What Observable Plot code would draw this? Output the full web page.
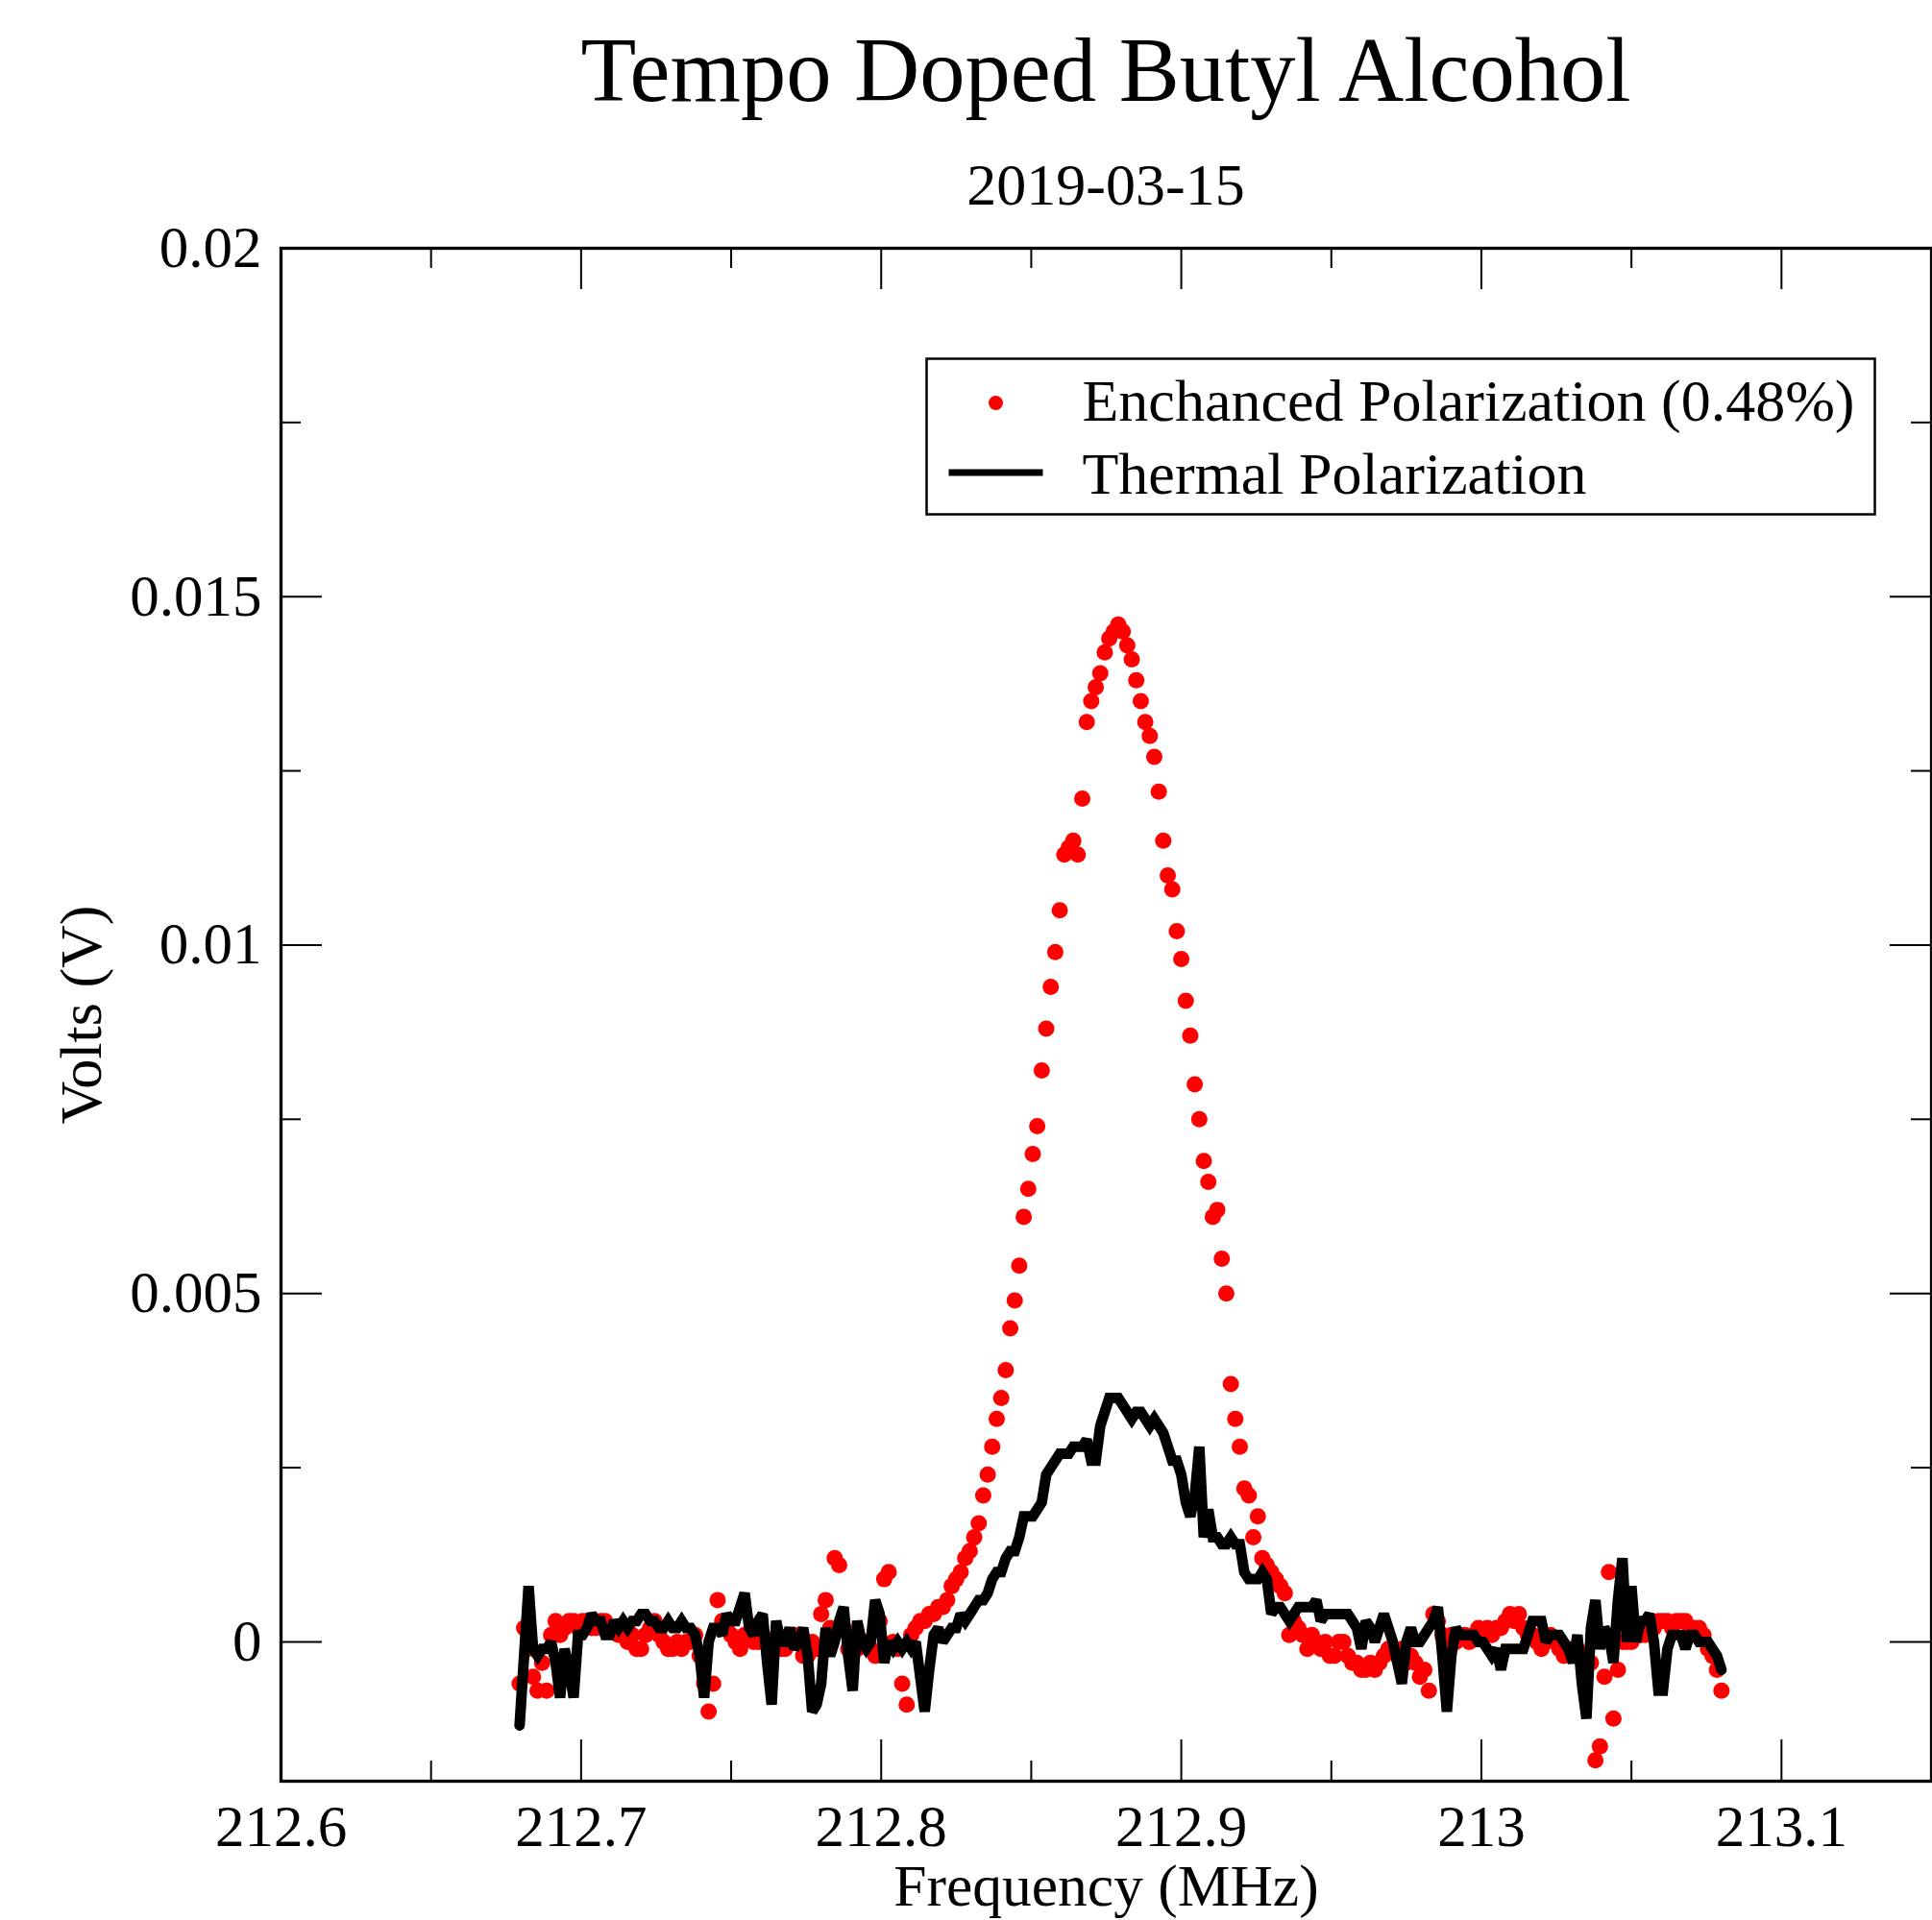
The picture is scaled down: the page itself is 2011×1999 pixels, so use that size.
<!DOCTYPE html>
<html>
<head>
<meta charset="utf-8">
<script src="https://cdn.jsdelivr.net/npm/d3@7"></script>
<script src="https://cdn.jsdelivr.net/npm/@observablehq/plot@0.6"></script>
<style>
  body { margin: 0; background: #fff; }
  #wrap { position: relative; width: 2011px; height: 1999px; font-family: "Liberation Serif", "Times New Roman", serif; color: #000; background: #fff; }
  #title { position: absolute; left: 292px; width: 1718px; top: 26px; font-size: 94.5px; line-height: 94.5px; text-align: center; margin: 0; font-weight: normal; }
  #subtitle { position: absolute; left: 292px; width: 1718px; top: 161px; font-size: 62px; line-height: 62px; text-align: center; margin: 0; font-weight: normal; }
  #plot { position: absolute; left: 0; top: 230px; }
</style>
</head>
<body>
<div id="wrap">
  <div id="title">Tempo Doped Butyl Alcohol</div>
  <div id="subtitle">2019-03-15</div>
  <div id="plot"></div>
</div>
<script>
// ---------- data ----------
const frequency = [
  212.6795, 212.6810, 212.6825, 212.6840, 212.6855, 212.6870, 212.6885, 212.6900, 212.6915, 212.6930,
  212.6945, 212.6960, 212.6975, 212.6990, 212.7005, 212.7020, 212.7035, 212.7050, 212.7065, 212.7080,
  212.7095, 212.7110, 212.7125, 212.7140, 212.7155, 212.7170, 212.7185, 212.7200, 212.7215, 212.7230,
  212.7245, 212.7260, 212.7275, 212.7290, 212.7305, 212.7320, 212.7335, 212.7350, 212.7365, 212.7380,
  212.7395, 212.7410, 212.7425, 212.7440, 212.7455, 212.7470, 212.7485, 212.7500, 212.7515, 212.7530,
  212.7545, 212.7560, 212.7575, 212.7590, 212.7605, 212.7620, 212.7635, 212.7650, 212.7665, 212.7680,
  212.7695, 212.7710, 212.7725, 212.7740, 212.7755, 212.7770, 212.7785, 212.7800, 212.7815, 212.7830,
  212.7845, 212.7860, 212.7875, 212.7890, 212.7905, 212.7920, 212.7935, 212.7950, 212.7965, 212.7980,
  212.7995, 212.8010, 212.8025, 212.8040, 212.8055, 212.8070, 212.8085, 212.8100, 212.8115, 212.8130,
  212.8145, 212.8160, 212.8175, 212.8190, 212.8205, 212.8220, 212.8235, 212.8250, 212.8265, 212.8280,
  212.8295, 212.8310, 212.8325, 212.8340, 212.8355, 212.8370, 212.8385, 212.8400, 212.8415, 212.8430,
  212.8445, 212.8460, 212.8475, 212.8490, 212.8505, 212.8520, 212.8535, 212.8550, 212.8565, 212.8580,
  212.8595, 212.8610, 212.8625, 212.8640, 212.8655, 212.8670, 212.8685, 212.8700, 212.8715, 212.8730,
  212.8745, 212.8760, 212.8775, 212.8790, 212.8805, 212.8820, 212.8835, 212.8850, 212.8865, 212.8880,
  212.8895, 212.8910, 212.8925, 212.8940, 212.8955, 212.8970, 212.8985, 212.9000, 212.9015, 212.9030,
  212.9045, 212.9060, 212.9075, 212.9090, 212.9105, 212.9120, 212.9135, 212.9150, 212.9165, 212.9180,
  212.9195, 212.9210, 212.9225, 212.9240, 212.9255, 212.9270, 212.9285, 212.9300, 212.9315, 212.9330,
  212.9345, 212.9360, 212.9375, 212.9390, 212.9405, 212.9420, 212.9435, 212.9450, 212.9465, 212.9480,
  212.9495, 212.9510, 212.9525, 212.9540, 212.9555, 212.9570, 212.9585, 212.9600, 212.9615, 212.9630,
  212.9645, 212.9660, 212.9675, 212.9690, 212.9705, 212.9720, 212.9735, 212.9750, 212.9765, 212.9780,
  212.9795, 212.9810, 212.9825, 212.9840, 212.9855, 212.9870, 212.9885, 212.9900, 212.9915, 212.9930,
  212.9945, 212.9960, 212.9975, 212.9990, 213.0005, 213.0020, 213.0035, 213.0050, 213.0065, 213.0080,
  213.0095, 213.0110, 213.0125, 213.0140, 213.0155, 213.0170, 213.0185, 213.0200, 213.0215, 213.0230,
  213.0245, 213.0260, 213.0275, 213.0290, 213.0305, 213.0320, 213.0335, 213.0350, 213.0365, 213.0380,
  213.0395, 213.0410, 213.0425, 213.0440, 213.0455, 213.0470, 213.0485, 213.0500, 213.0515, 213.0530,
  213.0545, 213.0560, 213.0575, 213.0590, 213.0605, 213.0620, 213.0635, 213.0650, 213.0665, 213.0680,
  213.0695, 213.0710, 213.0725, 213.0740, 213.0755, 213.0770, 213.0785, 213.0800
];

// Enchanced Polarization (0.48%) — red dots, volts
const enhanced = [
  -0.0006, 0.0002, -0.0001, -0.0005, -0.0007, -0.0003, -0.0007, 0.0001, 0.0003, 0.0001,
  0.0002, 0.0003, 0.0003, 0.0002, 0.0003, 0.0003, 0.0002, 0.0002, 0.0003, 0.0003,
  0.0002, 0.0002, 0.0001, 0.0001, 0.0000, 0.0001, -0.0001, -0.0001, 0.0001, 0.0002,
  0.0003, 0.0001, 0.0000, -0.0001, -0.0001, 0.0000, -0.0001, 0.0000, 0.0000, 0.0001,
  -0.0002, -0.0006, -0.0010, -0.0006, 0.0006, 0.0003, 0.0002, 0.0001, 0.0000, -0.0001,
  0.0001, 0.0001, 0.0000, 0.0000, 0.0001, 0.0000, -0.0001, 0.0000, -0.0001, -0.0001,
  0.0000, 0.0001, 0.0000, -0.0002, -0.0002, 0.0000, -0.0001, 0.0004, 0.0006, 0.0002,
  0.0012, 0.0011, 0.0002, -0.0001, 0.0000, -0.0001, 0.0000, 0.0000, -0.0001, -0.0002,
  0.0003, 0.0009, 0.0010, 0.0000, -0.0001, -0.0006, -0.0009, 0.0001, 0.0002, 0.0003,
  0.0003, 0.0004, 0.0004, 0.0005, 0.0005, 0.0006, 0.0008, 0.0009, 0.0010, 0.0012,
  0.0013, 0.0015, 0.0017, 0.0021, 0.0024, 0.0028, 0.0032, 0.0035, 0.0039, 0.0045,
  0.0049, 0.0054, 0.0061, 0.0065, 0.0070, 0.0074, 0.0082, 0.0088, 0.0094, 0.0099,
  0.0105, 0.0113, 0.0114, 0.0115, 0.0113, 0.0121, 0.0132, 0.0135, 0.0137, 0.0139,
  0.0142, 0.0144, 0.0145, 0.0146, 0.0145, 0.0143, 0.0141, 0.0138, 0.0135, 0.0132,
  0.0130, 0.0127, 0.0122, 0.0115, 0.0110, 0.0108, 0.0102, 0.0098, 0.0092, 0.0087,
  0.0080, 0.0075, 0.0069, 0.0066, 0.0061, 0.0062, 0.0055, 0.0050, 0.0037, 0.0032,
  0.0028, 0.0022, 0.0021, 0.0015, 0.0018, 0.0012, 0.0011, 0.0010, 0.0009, 0.0008,
  0.0007, 0.0001, 0.0003, 0.0002, 0.0001, -0.0001, 0.0001, 0.0000, -0.0001, 0.0000,
  -0.0002, -0.0002, 0.0000, 0.0000, -0.0002, -0.0003, -0.0003, -0.0004, -0.0004, -0.0003,
  -0.0004, -0.0003, -0.0002, -0.0001, -0.0001, -0.0002, -0.0001, -0.0003, -0.0002, -0.0003,
  -0.0005, -0.0004, -0.0007, 0.0004, 0.0003, 0.0001, 0.0000, 0.0001, 0.0000, 0.0001,
  0.0001, 0.0000, 0.0001, 0.0002, 0.0001, 0.0002, 0.0001, 0.0002, 0.0002, 0.0003,
  0.0004, 0.0003, 0.0004, 0.0002, 0.0001, 0.0001, 0.0000, -0.0001, 0.0000, 0.0001,
  0.0000, -0.0001, -0.0002, -0.0001, -0.0002, -0.0001, -0.0002, -0.0003, -0.0003, -0.0017,
  -0.0015, -0.0005, 0.0010, -0.0011, -0.0004, 0.0000, 0.0000, 0.0000, 0.0001, 0.0001,
  0.0001, 0.0002, 0.0002, 0.0003, 0.0003, 0.0003, 0.0002, 0.0003, 0.0003, 0.0003,
  0.0002, 0.0002, 0.0002, 0.0001, -0.0001, -0.0002, -0.0004, -0.0007
];

// Thermal Polarization — black line, volts
const thermal = [
  -0.0012, -0.0002, 0.0008, -0.0001, -0.0002, -0.0001, -0.0001, 0.0000, -0.0003, -0.0008,
  -0.0001, -0.0004, -0.0008, 0.0001, 0.0001, 0.0002, 0.0004, 0.0003, 0.0003, 0.0001,
  0.0001, 0.0003, 0.0002, 0.0003, 0.0002, 0.0003, 0.0003, 0.0004, 0.0004, 0.0003,
  0.0003, 0.0002, 0.0002, 0.0003, 0.0002, 0.0002, 0.0003, 0.0002, 0.0002, 0.0001,
  -0.0002, -0.0008, 0.0000, 0.0002, 0.0002, 0.0001, 0.0004, 0.0003, 0.0003, 0.0005,
  0.0007, 0.0002, 0.0001, 0.0003, 0.0004, -0.0003, -0.0009, 0.0003, 0.0000, 0.0000,
  0.0002, -0.0001, 0.0000, 0.0002, -0.0002, -0.0010, -0.0009, -0.0006, 0.0002, -0.0002,
  0.0000, 0.0003, 0.0005, -0.0002, -0.0007, 0.0003, 0.0000, -0.0001, 0.0000, 0.0006,
  0.0004, -0.0003, 0.0000, -0.0001, 0.0000, -0.0001, 0.0000, -0.0001, 0.0000, -0.0005,
  -0.0010, -0.0004, 0.0001, 0.0002, 0.0000, 0.0001, 0.0002, 0.0002, 0.0004, 0.0003,
  0.0004, 0.0005, 0.0006, 0.0006, 0.0007, 0.0009, 0.0010, 0.0010, 0.0012, 0.0013,
  0.0013, 0.0015, 0.0018, 0.0018, 0.0018, 0.0019, 0.0020, 0.0024, 0.0025, 0.0026,
  0.0027, 0.0027, 0.0027, 0.0028, 0.0028, 0.0028, 0.0029, 0.0026, 0.0026, 0.0031,
  0.0033, 0.0035, 0.0035, 0.0035, 0.0034, 0.0033, 0.0032, 0.0033, 0.0033, 0.0032,
  0.0031, 0.0032, 0.0031, 0.0030, 0.0028, 0.0026, 0.0026, 0.0024, 0.0020, 0.0018,
  0.0021, 0.0028, 0.0015, 0.0019, 0.0015, 0.0015, 0.0014, 0.0014, 0.0015, 0.0014,
  0.0014, 0.0010, 0.0009, 0.0009, 0.0009, 0.0010, 0.0009, 0.0004, 0.0005, 0.0005,
  0.0004, 0.0003, 0.0004, 0.0005, 0.0005, 0.0005, 0.0005, 0.0006, 0.0003, 0.0004,
  0.0004, 0.0004, 0.0004, 0.0004, 0.0004, 0.0003, 0.0002, -0.0001, 0.0003, 0.0002,
  0.0000, 0.0002, 0.0004, 0.0002, 0.0000, -0.0003, -0.0006, 0.0000, 0.0002, 0.0000,
  0.0000, 0.0001, 0.0002, 0.0003, 0.0005, -0.0002, -0.0010, -0.0002, 0.0002, 0.0001,
  0.0001, 0.0001, 0.0001, 0.0000, 0.0000, -0.0001, -0.0002, -0.0001, -0.0004, -0.0001,
  -0.0001, -0.0001, -0.0001, -0.0001, 0.0001, 0.0003, 0.0003, 0.0003, 0.0000, 0.0001,
  0.0001, 0.0001, 0.0000, -0.0001, -0.0003, 0.0001, -0.0006, -0.0011, 0.0002, 0.0006,
  -0.0001, 0.0002, 0.0001, -0.0003, 0.0006, 0.0012, 0.0000, 0.0008, 0.0000, 0.0003,
  0.0003, 0.0004, 0.0000, -0.0007, -0.0007, -0.0001, 0.0001, 0.0001, 0.0001, -0.0001,
  0.0001, 0.0001, 0.0000, 0.0000, 0.0000, -0.0001, -0.0002, -0.0004
];

const seriesNames = ["Enchanced Polarization (0.48%)", "Thermal Polarization"];
const xLabel = "Frequency (MHz)";
const yLabel = "Volts (V)";
const xDomain = [212.6, 213.15];
const yDomain = [-0.002, 0.02];
const xTickValues = [212.6, 212.7, 212.8, 212.9, 213.0, 213.1];
const xTickLabels = ["212.6", "212.7", "212.8", "212.9", "213", "213.1"];
const xMinorTicks = [212.65, 212.75, 212.85, 212.95, 213.05];
const yTickValues = [0, 0.005, 0.01, 0.015, 0.02];
const yTickLabels = ["0", "0.005", "0.01", "0.015", "0.02"];
const yMinorTicks = [0.0025, 0.0075, 0.0125, 0.0175];

// ---------- layout ----------
const W = 2011, H = 1769;
const mL = 292, mR = 1, mT = 28, mB = 145;
const innerW = W - mL - mR;
const innerH = H - mT - mB;
const majorLen = 43, minorLen = 21;

const enhancedData = frequency.map((f, i) => ({f, v: enhanced[i]}));
const thermalData = frequency.map((f, i) => ({f, v: thermal[i]}));

const tickStyle = {stroke: "black", strokeWidth: 2};

const chart = Plot.plot({
  width: W,
  height: H,
  marginLeft: mL,
  marginRight: mR,
  marginTop: mT,
  marginBottom: mB,
  style: {fontFamily: '"Liberation Serif", "Times New Roman", serif', fontSize: "61px", color: "black", background: "white", overflow: "visible"},
  x: {domain: xDomain, label: null},
  y: {domain: yDomain, label: null},
  marks: [
    // data
    Plot.dot(enhancedData, {x: "f", y: "v", r: 8.5, fill: "#ff0000", stroke: "none"}),
    Plot.line(thermalData, {x: "f", y: "v", stroke: "black", strokeWidth: 11, strokeLinejoin: "miter", strokeMiterlimit: 2}),
    // inward ticks: bottom / top
    Plot.tickX(xTickValues, {x: d => d, insetTop: innerH - majorLen, ...tickStyle}),
    Plot.tickX(xTickValues, {x: d => d, insetBottom: innerH - majorLen, ...tickStyle}),
    Plot.tickX(xMinorTicks, {x: d => d, insetTop: innerH - minorLen, ...tickStyle}),
    Plot.tickX(xMinorTicks, {x: d => d, insetBottom: innerH - minorLen, ...tickStyle}),
    // inward ticks: left / right
    Plot.tickY(yTickValues, {y: d => d, insetRight: innerW - majorLen, ...tickStyle}),
    Plot.tickY(yTickValues, {y: d => d, insetLeft: innerW - majorLen, ...tickStyle}),
    Plot.tickY(yMinorTicks, {y: d => d, insetRight: innerW - minorLen, ...tickStyle}),
    Plot.tickY(yMinorTicks, {y: d => d, insetLeft: innerW - minorLen, ...tickStyle}),
    // frame
    Plot.frame({stroke: "black", strokeWidth: 3.3}),
    // axes (labels only)
    Plot.axisX(xTickValues, {tickSize: 0, tickPadding: 24, tickFormat: d => xTickLabels[xTickValues.indexOf(d)], label: null, fontSize: 61}),
    Plot.axisY(yTickValues, {tickSize: 0, tickPadding: 20, tickFormat: d => yTickLabels[yTickValues.indexOf(d)], label: null, fontSize: 61}),
    Plot.text([xLabel], {text: d => d, frameAnchor: "bottom", dy: 129, lineAnchor: "bottom", fontSize: 61.5, fill: "black"}),
    Plot.text([yLabel], {text: d => d, frameAnchor: "left", dx: -207, rotate: -90, textAnchor: "middle", fontSize: 62, fill: "black"}),
    // legend
    Plot.frame({stroke: "black", strokeWidth: 2.5, insetLeft: 964 - mL, insetRight: (mL + innerW) - 1951, insetTop: 373 - 258, insetBottom: 1854 - 535}),
    Plot.dot([seriesNames[0]], {frameAnchor: "top-left", dx: 1036 - mL, dy: 419 - 258, r: 7.5, fill: "#ff0000", stroke: "none"}),
    Plot.frame({fill: "black", stroke: "none", insetLeft: 987 - mL, insetRight: (mL + innerW) - 1085, insetTop: 488 - 258, insetBottom: 1854 - 495}),
    Plot.text([seriesNames[0]], {text: d => d, frameAnchor: "top-left", dx: 1126 - mL, dy: 437 - 258, textAnchor: "start", lineAnchor: "bottom", fontSize: 62, fill: "black"}),
    Plot.text([seriesNames[1]], {text: d => d, frameAnchor: "top-left", dx: 1126 - mL, dy: 513 - 258, textAnchor: "start", lineAnchor: "bottom", fontSize: 62, fill: "black"})
  ]
});

document.getElementById("plot").appendChild(chart);
</script>
</body>
</html>
